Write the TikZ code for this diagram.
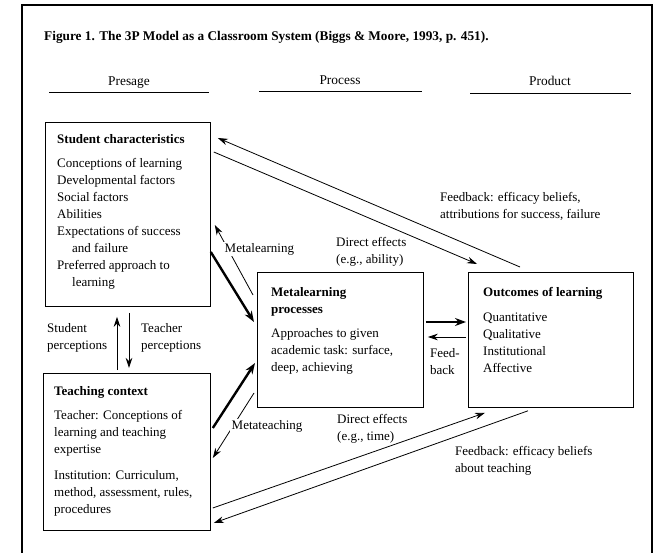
\documentclass[tikz,border=0pt]{standalone}
\usepackage{fontspec}
\setmainfont{Liberation Serif}
\usetikzlibrary{arrows.meta,calc}
\tikzset{
	box/.style={draw, line width=0.8pt, anchor=north west, inner sep=0pt},
	txt/.style={anchor=north west, inner sep=0pt, align=left, font=\fontsize{13}{17}\selectfont},
	onlinelbl/.style={anchor=west, inner sep=1.5pt, fill=white, font=\fontsize{13}{17}\selectfont},
	head/.style={inner sep=0pt, anchor=base, font=\fontsize{13.4}{16}\selectfont},
	thinarr/.style={line width=0.8pt, -{Stealth[length=10pt,width=6.5pt]}},
	thickarr/.style={line width=2.4pt, -{Stealth[length=11pt,width=8pt]}},
}
\begin{document}
\begin{tikzpicture}[x=1pt, y=-1pt]
	\useasboundingbox (0,0) rectangle (656,553);
	% frame and title
	\draw[line width=1.2pt] (22,5) rectangle (652,570);
	\node[anchor=base west, inner sep=0pt, font=\bfseries\fontsize{13.3}{16}\selectfont] (title) at (44,41)
		{Figure 1. The 3P Model as a Classroom System (Biggs \& Moore, 1993, p. 451).};
	% column heads
	\node[head] (presage) at (129,86) {Presage};
	\node[head] (process) at (340,85) {Process};
	\node[head] (product) at (550,86) {Product};
	\draw[line width=0.8pt] (49,92) -- (209,92);
	\draw[line width=0.8pt] (259,91) -- (422,91);
	\draw[line width=0.8pt] (470,93) -- (631,93);
	% boxes
	\node[box, minimum width=165pt, minimum height=184pt] (stud) at (45,122) {};
	\node[box, minimum width=167pt, minimum height=157pt] (teach) at (43,373) {};
	\node[box, minimum width=166pt, minimum height=135pt] (meta) at (257,272) {};
	\node[box, minimum width=165pt, minimum height=135pt] (outc) at (468,272) {};
	% box texts
	\node[txt] (studtxt) at (57,134) {\textbf{Student characteristics}\\[7pt]
		Conceptions of learning\\ Developmental factors\\ Social factors\\ Abilities\\
		Expectations of success\\ \hspace{15pt}and failure\\ Preferred approach to\\ \hspace{15pt}learning};
	\node[txt] (teachtxt) at (54,386) {\textbf{Teaching context}\\[7pt]
		Teacher: Conceptions of\\ learning and teaching\\ expertise\\[9pt]
		Institution: Curriculum,\\ method, assessment, rules,\\ procedures};
	\node[txt] (metatxt) at (271,287) {\textbf{Metalearning}\\ \textbf{processes}\\[7pt]
		Approaches to given\\ academic task: surface,\\ deep, achieving};
	\node[txt] (outctxt) at (483,287) {\textbf{Outcomes of learning}\\[8pt]
		Quantitative\\ Qualitative\\ Institutional\\ Affective};
	% connectors
	\draw[thinarr] ($(outc.north west)+(52,-5)$) -- ($(stud.north east)+(7,16)$);
	\draw[thinarr] ($(stud.north east)+(3,30)$) -- ($(outc.north west)+(9,-8)$);
	\draw[thickarr] ($(stud.north east)+(0,130)$) -- ($(meta.north west)+(-3,50)$);
	\draw[thinarr] ($(meta.north west)+(-4,23)$) -- ($(stud.north east)+(4,103)$);
	\draw[thickarr] ($(teach.north east)+(2,55)$) -- ($(meta.north west)+(-2,91)$);
	\draw[thinarr] ($(meta.north west)+(-3,121)$) -- ($(teach.north east)+(2,85)$);
	\draw[thinarr] ($(teach.north east)+(2,135)$) -- ($(outc.south west)+(17,5)$);
	\draw[thinarr] ($(outc.south west)+(60,3)$) -- ($(teach.north east)+(3,150)$);
	\draw[thickarr] ($(meta.north east)+(2,50)$) -- ($(outc.north west)+(-2,50)$);
	\draw[thinarr] ($(outc.north west)+(-2,65)$) -- ($(meta.north east)+(4,65)$);
	\draw[thinarr] ($(teach.north west)+(74,-3)$) -- ($(stud.south west)+(72,10)$);
	\draw[thinarr] ($(stud.south west)+(84,6)$) -- ($(teach.north west)+(86,-5)$);
	% labels
	\node[txt] (fbone) at (440,192) {Feedback: efficacy beliefs,\\attributions for success, failure};
	\node[txt] (deone) at (336,237) {Direct effects\\(e.g., ability)};
	\node[onlinelbl] (mlearn) at (223,249) {Metalearning};
	\node[txt] (fback) at (430,348) {Feed-\\back};
	\node[txt] (sperc) at (47,323) {Student\\perceptions};
	\node[txt] (tperc) at (141,323) {Teacher\\perceptions};
	\node[onlinelbl] (mteach) at (230,426) {Metateaching};
	\node[txt] (detwo) at (337,414) {Direct effects\\(e.g., time)};
	\node[txt] (fbtwo) at (455,446) {Feedback: efficacy beliefs\\about teaching};
\end{tikzpicture}
\end{document}
